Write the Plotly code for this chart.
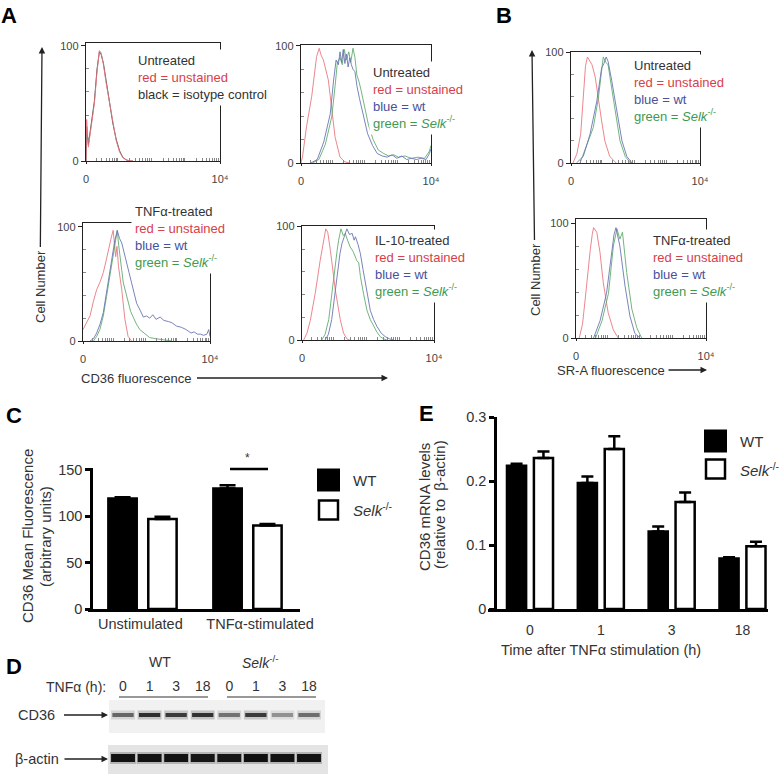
import math
import plotly.graph_objects as go

# ---------------- DATA ----------------
# Panel A (CD36 flow histograms); x in log decades (0 .. 4 = 10^4), y = % of max
a1_red_x = [0, 0.02, 0.07, 0.15, 0.25, 0.33, 0.40, 0.45, 0.52, 0.60, 0.70, 0.80, 0.90, 1.00, 1.10, 1.20, 1.30, 1.40]
a1_red_y = [0, 36, 12, 28, 50, 78, 96, 94, 84, 68, 52, 34, 18, 8, 3, 1, 0, 0]
a1_black_x = [0, 0.02, 0.07, 0.15, 0.25, 0.33, 0.40, 0.45, 0.52, 0.60, 0.70, 0.80, 0.90, 1.00, 1.10, 1.20, 1.30, 1.40]
a1_black_y = [0, 30, 14, 30, 52, 80, 95, 93, 85, 70, 50, 33, 19, 9, 3, 1, 0, 0]

a2_red_x = [0, 0.05, 0.17, 0.33, 0.48, 0.56, 0.62, 0.69, 0.84, 0.94, 1.05, 1.2, 1.35, 1.5]
a2_red_y = [0, 6, 31, 57, 91, 98, 92, 88, 71, 48, 22, 5, 1, 0]
a2_blue_x = [0.3, 0.5, 0.7, 0.9, 1.0, 1.08, 1.15, 1.2, 1.25, 1.3, 1.35, 1.4, 1.45, 1.5, 1.55, 1.6, 1.66, 1.72,
             1.8, 1.92, 2.05, 2.2, 2.35, 2.5, 2.65, 2.8, 2.95, 3.1, 3.25, 3.4, 3.55, 3.7, 3.85, 3.95, 4.0]
a2_blue_y = [0, 3, 18, 42, 70, 88, 84, 95, 86, 97, 85, 93, 82, 90, 84, 80, 78, 66,
             55, 40, 25, 15, 8, 6, 5, 7, 4, 6, 3, 4, 3, 4, 3, 8, 12]
a2_green_x = [0.35, 0.55, 0.75, 0.95, 1.05, 1.12, 1.2, 1.27, 1.33, 1.4, 1.47, 1.53, 1.6, 1.66, 1.72, 1.78,
              1.85, 1.95, 2.08, 2.22, 2.38, 2.55, 2.7, 2.85, 3.0, 3.2, 3.4, 3.6, 3.8, 3.95, 4.0]
a2_green_y = [0, 3, 16, 40, 66, 86, 90, 84, 97, 88, 95, 86, 98, 90, 75, 70,
              62, 48, 32, 20, 11, 8, 6, 7, 5, 6, 4, 5, 4, 10, 15]

a3_red_x = [0, 0.1, 0.22, 0.33, 0.43, 0.54, 0.64, 0.74, 0.84, 0.9, 0.95, 1.0, 1.03, 1.07, 1.12, 1.22, 1.32, 1.42, 1.53]
a3_red_y = [10, 15, 22, 35, 45, 52, 60, 72, 86, 92, 97, 82, 74, 83, 65, 45, 19, 4, 0]
a3_blue_x = [0.22, 0.33, 0.43, 0.54, 0.64, 0.74, 0.84, 0.93, 1.0, 1.08, 1.15, 1.22, 1.3, 1.38, 1.45, 1.53, 1.6,
             1.69, 1.8, 1.9, 2.0, 2.1, 2.2, 2.3, 2.43, 2.55, 2.7, 2.8, 2.95, 3.1, 3.25, 3.4, 3.5, 3.6, 3.7,
             3.8, 3.9, 3.96, 4.0]
a3_blue_y = [0, 2, 7, 15, 25, 42, 60, 78, 88, 97, 90, 86, 76, 68, 60, 51, 42,
             33, 27, 21, 22, 20, 23, 19, 21, 18, 17, 16, 13, 12, 10, 7, 8, 6, 6,
             5, 6, 10, 4]
a3_green_x = [0.33, 0.43, 0.53, 0.64, 0.74, 0.85, 0.95, 1.02, 1.08, 1.12, 1.16, 1.22, 1.27, 1.35, 1.43, 1.5,
              1.58, 1.68, 1.79, 1.95, 2.1, 2.3, 2.5, 2.8]
a3_green_y = [0, 4, 10, 22, 39, 58, 74, 88, 97, 85, 74, 62, 51, 42, 33, 26,
              21, 15, 10, 6, 3, 2, 1, 0]

a4_red_x = [0.05, 0.15, 0.25, 0.4, 0.55, 0.65, 0.72, 0.78, 0.86, 1.01, 1.16, 1.26, 1.36, 1.45]
a4_red_y = [0, 6, 17, 41, 70, 88, 98, 95, 79, 44, 18, 6, 1, 0]
a4_blue_x = [0.7, 0.8, 0.9, 1.06, 1.15, 1.21, 1.28, 1.36, 1.44, 1.52, 1.58, 1.62, 1.7, 1.77, 1.85, 1.92,
             2.0, 2.07, 2.17, 2.27, 2.4, 2.52, 2.65, 2.78]
a4_blue_y = [0, 5, 18, 56, 76, 85, 92, 98, 93, 94, 88, 91, 84, 76, 62, 50,
             37, 26, 18, 12, 6, 3, 1, 0]
a4_green_x = [0.6, 0.7, 0.81, 0.96, 1.06, 1.11, 1.18, 1.25, 1.31, 1.38, 1.46, 1.55, 1.66, 1.72, 1.77,
              1.87, 1.97, 2.07, 2.17, 2.27, 2.37, 2.47, 2.57]
a4_green_y = [0, 5, 18, 56, 78, 88, 98, 92, 94, 88, 82, 78, 70, 68, 56,
              40, 26, 18, 12, 7, 3, 1, 0]

# Panel B (SR-A flow histograms)
b1_red_x = [0.06, 0.18, 0.3, 0.39, 0.45, 0.51, 0.58, 0.65, 0.75, 0.85, 0.95, 1.05, 1.2, 1.4]
b1_red_y = [0, 8, 26, 70, 88, 96, 92, 89, 78, 56, 38, 20, 6, 0]
b1_blue_x = [0.17, 0.38, 0.59, 0.8, 0.95, 1.02, 1.09, 1.15, 1.26, 1.42, 1.58, 1.73, 1.89]
b1_blue_y = [0, 6, 26, 56, 86, 90, 96, 92, 75, 47, 20, 6, 0]
b1_green_x = [0.28, 0.48, 0.69, 0.85, 0.95, 1.0, 1.08, 1.15, 1.26, 1.37, 1.52, 1.68, 1.84]
b1_green_y = [0, 15, 32, 59, 88, 96, 91, 89, 68, 47, 20, 6, 0]

b2_red_x = [0.1, 0.2, 0.28, 0.36, 0.44, 0.5, 0.54, 0.64, 0.74, 0.84, 0.99, 1.15, 1.3]
b2_red_y = [0, 12, 33, 58, 77, 90, 96, 92, 74, 48, 22, 7, 0]
b2_blue_x = [0.54, 0.74, 0.94, 1.1, 1.17, 1.23, 1.3, 1.35, 1.51, 1.66, 1.81, 1.97]
b2_blue_y = [0, 15, 39, 74, 90, 96, 88, 80, 45, 19, 4, 0]
b2_green_x = [0.6, 0.8, 1.0, 1.15, 1.26, 1.3, 1.35, 1.43, 1.5, 1.56, 1.72, 1.87, 2.02]
b2_green_y = [0, 15, 39, 80, 95, 90, 86, 92, 75, 57, 25, 9, 0]

# Panel C (CD36 mean fluorescence)
c_groups = ["Unstimulated", "TNFα-stimulated"]
c_wt = [119, 130]
c_wt_err = [1.5, 3.5]
c_selk = [97, 90]
c_selk_err = [2.5, 1.5]
c_yticks = [0, 50, 100, 150]

# Panel D (western blot band intensities, 0..1)
d_lane_labels = ["0", "1", "3", "18", "0", "1", "3", "18"]
d_cd36 = [0.62, 0.92, 0.85, 0.90, 0.55, 0.85, 0.40, 0.58]
d_actin = [0.95, 0.95, 0.95, 0.93, 0.93, 0.97, 0.95, 0.95]

# Panel E (CD36 mRNA)
e_times = ["0", "1", "3", "18"]
e_wt = [0.224, 0.197, 0.121, 0.079]
e_wt_err = [0.003, 0.010, 0.008, 0.002]
e_selk = [0.236, 0.250, 0.167, 0.098]
e_selk_err = [0.010, 0.020, 0.015, 0.007]
e_yticks = [0, 0.1, 0.2, 0.3]

# ---------------- LAYOUT HELPERS ----------------
W, H = 782, 774
FONT = "Liberation Sans, Arial, Helvetica, sans-serif"
TXT = "#333333"
RED_T, BLUE_T, GREEN_T = "#d8404a", "#46529c", "#3f9a4f"
RED_L, BLUE_L, GREEN_L, BLACK_L = "#ea7880", "#6b76b2", "#62ad70", "#3a3a3a"


def xdom(a, b):
    return [a / W, b / W]


def ydom(top, bottom):
    return [1 - bottom / H, 1 - top / H]


def px(x):
    return x / W


def py(y):
    return 1 - y / H


fig = go.Figure()
axes = {}
annotations = []
shapes = []

minor_x = [d + math.log10(k) for d in range(4) for k in range(2, 10)]


def key(n):
    return "" if n == 1 else str(n)


def hist_panel(n, box, ymax, curves):
    x0, x1, y0, y1 = box
    k = key(n)
    axes["xaxis" + k] = dict(domain=xdom(x0, x1), range=[0, 4], anchor="y" + k, automargin=False,
                             showline=True, mirror=True, linecolor="#222", linewidth=1.4,
                             tickvals=[0, 4], ticktext=["0", "10⁴"], ticks="outside", ticklen=2,
                             tickcolor="#222", ticklabelstandoff=6,
                             tickfont=dict(size=11, color="#444", family=FONT),
                             showgrid=False, zeroline=False,
                             minor=dict(tickvals=minor_x, ticks="inside", ticklen=3, tickcolor="#888",
                                        showgrid=False))
    axes["yaxis" + k] = dict(domain=ydom(y0, y1), range=[0, ymax], anchor="x" + k, automargin=False,
                             showline=True, mirror=True, linecolor="#222", linewidth=1.4,
                             tickvals=[0, 100], ticks="outside", ticklen=4, tickcolor="#222",
                             tickfont=dict(size=11, color="#444", family=FONT),
                             showgrid=False, zeroline=False,
                             minor=dict(tickvals=[20, 40, 60, 80], ticks="inside", ticklen=3,
                                        tickcolor="#888", showgrid=False))
    for xs, ys, col in curves:
        fig.add_trace(go.Scatter(x=xs, y=ys, mode="lines", line=dict(color=col, width=0.9),
                                 xaxis="x" + k, yaxis="y" + k, showlegend=False, hoverinfo="skip"))


hist_panel(1, (86, 220, 43, 161), 102.6,
           [(a1_black_x, a1_black_y, BLACK_L), (a1_red_x, a1_red_y, RED_L)])
hist_panel(2, (301, 431, 45, 163), 100.8,
           [(a2_red_x, a2_red_y, RED_L), (a2_green_x, a2_green_y, GREEN_L), (a2_blue_x, a2_blue_y, BLUE_L)])
hist_panel(3, (83, 210, 223, 341), 103.5,
           [(a3_red_x, a3_red_y, RED_L), (a3_green_x, a3_green_y, GREEN_L), (a3_blue_x, a3_blue_y, BLUE_L)])
hist_panel(4, (302, 434, 226, 340), 100.5,
           [(a4_red_x, a4_red_y, RED_L), (a4_green_x, a4_green_y, GREEN_L), (a4_blue_x, a4_blue_y, BLUE_L)])
hist_panel(5, (571, 700, 52, 163), 100.5,
           [(b1_red_x, b1_red_y, RED_L), (b1_green_x, b1_green_y, GREEN_L), (b1_blue_x, b1_blue_y, BLUE_L)])
hist_panel(6, (576, 706, 219, 338), 103.5,
           [(b2_red_x, b2_red_y, RED_L), (b2_green_x, b2_green_y, GREEN_L), (b2_blue_x, b2_blue_y, BLUE_L)])


def span(t, c):
    return f"<span style='color:{c}'>{t}</span>"


SELK = "<i>Selk</i><sup>-/-</sup>"


def hist_text(x, y, lines):
    annotations.append(dict(x=px(x), y=py(y), xref="paper", yref="paper", xanchor="left", yanchor="middle",
                            align="left", showarrow=False, text="<br>".join(lines),
                            font=dict(size=13, color=TXT, family=FONT), bgcolor="white", borderpad=3))


wt_lines = [span("red = unstained", RED_T), span("blue = wt", BLUE_T), span("green = " + SELK, GREEN_T)]
hist_text(134, 77.5, ["Untreated", span("red = unstained", RED_T), "black = isotype control"])
hist_text(369, 98, ["Untreated"] + wt_lines)
hist_text(131, 237, ["TNFα-treated"] + wt_lines)
hist_text(371, 266, ["IL-10-treated"] + wt_lines)
hist_text(630, 91, ["Untreated"] + wt_lines)
hist_text(649, 266, ["TNFα-treated"] + wt_lines)

# ---------------- Panel C ----------------
BW, OFF = 0.27, 0.19
cx = list(range(len(c_groups)))
fig.add_trace(go.Bar(x=cx, y=c_wt, width=BW, offset=-OFF - BW / 2, xaxis="x7", yaxis="y7",
                     marker=dict(color="black", line=dict(color="black", width=2.5)), showlegend=False,
                     error_y=dict(type="data", array=c_wt_err, arrayminus=[0] * len(c_wt), symmetric=False,
                                  color="black", thickness=2.5, width=8)))
fig.add_trace(go.Bar(x=cx, y=c_selk, width=BW, offset=OFF - BW / 2, xaxis="x7", yaxis="y7",
                     marker=dict(color="white", line=dict(color="black", width=2.5)), showlegend=False,
                     error_y=dict(type="data", array=c_selk_err, arrayminus=[0] * len(c_selk), symmetric=False,
                                  color="black", thickness=2.5, width=8)))
axes["xaxis7"] = dict(domain=xdom(88, 300), range=[-0.519, 1.5], anchor="y7", showline=True, automargin=False,
                      linecolor="black", linewidth=2.5, ticks="", tickvals=[-0.02, 1.12], ticktext=c_groups,
                      tickfont=dict(size=14.5, color=TXT, family=FONT), showgrid=False, zeroline=False)
axes["yaxis7"] = dict(domain=ydom(468, 609), range=[0, 152], anchor="free", position=px(91), showline=True,
                      automargin=False,
                      linecolor="black", linewidth=2.5, ticks="outside", ticklen=5, tickwidth=2.5,
                      tickcolor="black", tickvals=c_yticks, tickfont=dict(size=14.5, color=TXT, family=FONT),
                      showgrid=False, zeroline=False)

# ---------------- Panel E ----------------
ex = list(range(len(e_times)))
fig.add_trace(go.Bar(x=ex, y=e_wt, width=BW, offset=-OFF - BW / 2, xaxis="x8", yaxis="y8",
                     marker=dict(color="black", line=dict(color="black", width=2.5)), showlegend=False,
                     error_y=dict(type="data", array=e_wt_err, arrayminus=[0] * len(e_wt), symmetric=False,
                                  color="black", thickness=2.5, width=6)))
fig.add_trace(go.Bar(x=ex, y=e_selk, width=BW, offset=OFF - BW / 2, xaxis="x8", yaxis="y8",
                     marker=dict(color="white", line=dict(color="black", width=2.5)), showlegend=False,
                     error_y=dict(type="data", array=e_selk_err, arrayminus=[0] * len(e_selk), symmetric=False,
                                  color="black", thickness=2.5, width=6)))
axes["xaxis8"] = dict(domain=xdom(488, 768), range=[-0.593, 3.36], anchor="y8", showline=True, automargin=False,
                      linecolor="black", linewidth=2.5, ticks="", tickvals=ex, ticktext=e_times,
                      ticklabelstandoff=6,
                      tickfont=dict(size=14, color=TXT, family=FONT), showgrid=False, zeroline=False)
axes["yaxis8"] = dict(domain=ydom(417, 609), range=[0, 0.3], anchor="free", position=px(495), showline=True,
                      automargin=False,
                      linecolor="black", linewidth=2.5, ticks="outside", ticklen=5, tickwidth=2.5,
                      tickcolor="black", tickvals=e_yticks, ticktext=["0", "0.1", "0.2", "0.3"],
                      tickfont=dict(size=14.5, color=TXT, family=FONT), showgrid=False, zeroline=False)

# ---------------- Panel D (blot) ----------------
lanes = list(range(len(d_lane_labels)))
for i in lanes:
    v = d_cd36[i]
    fig.add_trace(go.Scatter(x=[i - 0.45, i + 0.45], y=[1, 1], mode="lines", xaxis="x9", yaxis="y9",
                             line=dict(color=f"rgba(40,40,40,{0.25 * v:.2f})", width=9),
                             showlegend=False, hoverinfo="skip"))
    fig.add_trace(go.Scatter(x=[i - 0.4, i + 0.4], y=[1, 1], mode="lines", xaxis="x9", yaxis="y9",
                             line=dict(color=f"rgba(15,15,15,{0.9 * v:.2f})", width=4),
                             showlegend=False, hoverinfo="skip"))
    a = d_actin[i]
    fig.add_trace(go.Scatter(x=[i - 0.49, i + 0.49], y=[0, 0], mode="lines", xaxis="x9", yaxis="y9",
                             line=dict(color=f"rgba(30,30,30,{0.25 * a:.2f})", width=12),
                             showlegend=False, hoverinfo="skip"))
    fig.add_trace(go.Scatter(x=[i - 0.45, i + 0.45], y=[0, 0], mode="lines", xaxis="x9", yaxis="y9",
                             line=dict(color=f"rgba(10,10,10,{a:.2f})", width=8),
                             showlegend=False, hoverinfo="skip"))
axes["xaxis9"] = dict(domain=xdom(108, 328), range=[-0.565, 7.715], anchor="y9", side="top", automargin=False,
                      showline=False, ticks="", tickvals=lanes, ticktext=d_lane_labels,
                      tickfont=dict(size=14, color=TXT, family=FONT), showgrid=False, zeroline=False,
                      ticklabelstandoff=3)
axes["yaxis9"] = dict(domain=ydom(698, 774), range=[-0.372, 1.395], anchor="x9", showline=False,
                      automargin=False,
                      showticklabels=False, ticks="", showgrid=False, zeroline=False)

# blot strips (backgrounds)
shapes.append(dict(type="rect", xref="paper", yref="paper", x0=px(109), x1=px(325), y0=py(733), y1=py(700),
                   fillcolor="#f1f1f1", line=dict(width=0), layer="below"))
shapes.append(dict(type="rect", xref="paper", yref="paper", x0=px(108), x1=px(328), y0=py(774), y1=py(745),
                   fillcolor="#e4e4e4", line=dict(width=0), layer="below"))
# lane group underlines
for a0, a1 in [(119, 208), (227, 316)]:
    shapes.append(dict(type="line", xref="paper", yref="paper", x0=px(a0), x1=px(a1), y0=py(697), y1=py(697),
                       line=dict(color="#333", width=1.2)))

# significance bar in C
shapes.append(dict(type="line", xref="paper", yref="paper", x0=px(230), x1=px(268), y0=py(469), y1=py(469),
                   line=dict(color="black", width=2.5)))


# legends for C and E
def legend_block(x, y_wt, y_selk, size):
    shapes.append(dict(type="rect", xref="paper", yref="paper", x0=px(x), x1=px(x + size),
                       y0=py(y_wt + size / 2), y1=py(y_wt - size / 2), fillcolor="black",
                       line=dict(color="black", width=2)))
    shapes.append(dict(type="rect", xref="paper", yref="paper", x0=px(x + 1), x1=px(x + size - 1),
                       y0=py(y_selk + size / 2 - 1), y1=py(y_selk - size / 2 + 1), fillcolor="white",
                       line=dict(color="black", width=2.5)))
    for yy, t in [(y_wt, "WT"), (y_selk, SELK)]:
        annotations.append(dict(x=px(x + size + 12), y=py(yy), xref="paper", yref="paper", xanchor="left",
                                yanchor="middle", showarrow=False, text=t,
                                font=dict(size=15, color=TXT, family=FONT)))


legend_block(318, 480, 510, 21)
legend_block(705, 441, 469, 21)


def label(x, y, t, size=13, angle=0, anchor="center", bold=False, color=TXT):
    annotations.append(dict(x=px(x), y=py(y), xref="paper", yref="paper", xanchor=anchor, yanchor="middle",
                            showarrow=False, text=f"<b>{t}</b>" if bold else t, textangle=angle,
                            font=dict(size=size, color=color, family=FONT)))


def arrow_label(t, text_x, text_y, tip_x, tip_y, size=13, angle=0, pad=3):
    # text placed at (text_x, text_y); arrow drawn from the text box edge to the tip
    annotations.append(dict(x=px(tip_x), y=py(tip_y), xref="paper", yref="paper",
                            ax=text_x - tip_x, ay=text_y - tip_y, text=t, textangle=angle,
                            font=dict(size=size, color=TXT, family=FONT), borderpad=pad,
                            showarrow=True, arrowhead=2, arrowsize=1, arrowwidth=1.3, arrowcolor="#222"))


# panel letters
for t, x, y in [("A", 9, 15), ("B", 504, 15), ("C", 14, 415), ("D", 14, 666), ("E", 426, 414)]:
    label(x, y, t, size=22, bold=True, color="black")

# A / B axis labels with arrows
arrow_label("Cell Number", 40, 287, 42, 47, angle=-90, pad=3)
arrow_label("CD36 fluorescence", 136, 378, 388, 378, pad=5)
arrow_label("Cell Number", 535, 280, 532, 50, angle=-90, pad=3)
arrow_label("SR-A fluorescence", 611, 370, 707, 370, pad=3)

# C titles
label(27, 536, "CD36 Mean Fluorescence", size=15, angle=-90)
label(45, 537, "(arbitrary units)", size=15, angle=-90)
label(247, 458, "*", size=12)

# E titles
label(424, 507, "CD36 mRNA levels", size=15, angle=-90)
label(439, 504, "(relative to  β-actin)", size=15, angle=-90)
label(601, 650, "Time after TNFα stimulation (h)", size=14.5)

# D labels
label(160, 662, "WT", size=14)
label(260, 662, SELK, size=14)
label(108, 687, "TNFα (h):", size=14, anchor="right")
arrow_label("CD36", 37, 715, 108, 715, size=14.5, pad=8)
arrow_label("β-actin", 37, 759, 108, 759, size=14.5, pad=5)

fig.update_layout(template="none", width=W, height=H,
                  margin=dict(l=0, r=0, t=0, b=0, pad=0, autoexpand=False),
                  paper_bgcolor="white", plot_bgcolor="rgba(0,0,0,0)", barmode="overlay",
                  font=dict(family=FONT, color=TXT),
                  annotations=annotations, shapes=shapes, showlegend=False, **axes)

fig.write_html("out.html", config={"displayModeBar": False},
               post_script="document.body.style.margin='0';document.body.style.overflow='hidden';")
